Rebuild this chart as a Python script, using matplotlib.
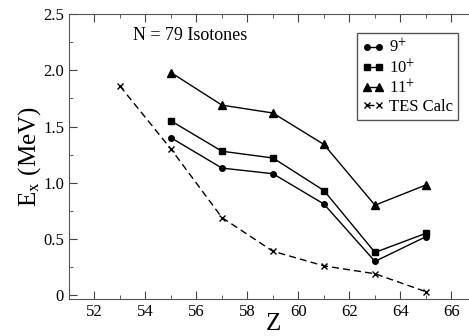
import matplotlib
matplotlib.use('Agg')
import matplotlib.pyplot as plt
from matplotlib.ticker import MultipleLocator

plt.rcParams['font.family'] = ['Liberation Serif', 'DejaVu Serif']
plt.rcParams['mathtext.fontset'] = 'stix'

z_exp = [55, 57, 59, 61, 63, 65]
e_9 = [1.40, 1.13, 1.08, 0.81, 0.30, 0.52]
e_10 = [1.55, 1.28, 1.22, 0.93, 0.38, 0.55]
e_11 = [1.98, 1.69, 1.62, 1.34, 0.80, 0.98]
z_tes = [53, 55, 57, 59, 61, 63, 65]
e_tes = [1.86, 1.30, 0.69, 0.39, 0.26, 0.19, 0.03]

fig = plt.figure(figsize=(4.69, 3.36), dpi=100)
ax = fig.add_axes([0.147, 0.110, 0.87, 0.848])

ax.plot(z_exp, e_9, 'k-', marker='o', ms=4, lw=1, label='9$^{+}$')
ax.plot(z_exp, e_10, 'k-', marker='s', ms=4.5, lw=1, label='10$^{+}$')
ax.plot(z_exp, e_11, 'k-', marker='^', ms=6, lw=1, label='11$^{+}$')
ax.plot(z_tes, e_tes, 'k--', marker='x', ms=5, lw=1, mew=1, dashes=(5, 3), label='TES Calc')

ax.set_xlim(51, 67)
ax.set_ylim(-0.035, 2.5)
ax.xaxis.set_major_locator(MultipleLocator(2))
ax.xaxis.set_minor_locator(MultipleLocator(1))
ax.yaxis.set_minor_locator(MultipleLocator(0.25))
ax.set_yticks([0, 0.5, 1.0, 1.5, 2.0, 2.5])
ax.set_yticklabels(['0', '0.5', '1.0', '1.5', '2.0', '2.5'])
ax.tick_params(which='both', direction='in', top=True, right=True, labelsize=12, colors='#444444', labelcolor='black')
ax.tick_params(which='major', length=6)
ax.tick_params(which='minor', length=3)
for s in ax.spines.values():
    s.set_color('#555555')

ax.set_xlabel('Z', fontsize=18, labelpad=-5)
ax.set_ylabel('E$_{\\mathrm{x}}$ (MeV)', fontsize=18, labelpad=0)

ax.text(53.5, 2.31, 'N = 79 Isotones', fontsize=13, va='center')

leg = ax.legend(loc='upper right', bbox_to_anchor=(0.953, 0.933), fontsize=12,
                numpoints=2, handlelength=1.3, handletextpad=0.3, labelspacing=0.1,
                borderpad=0.3, borderaxespad=0, fancybox=False, framealpha=1)
leg.get_frame().set_edgecolor('#555555')

fig.savefig('out.png', dpi=100)
